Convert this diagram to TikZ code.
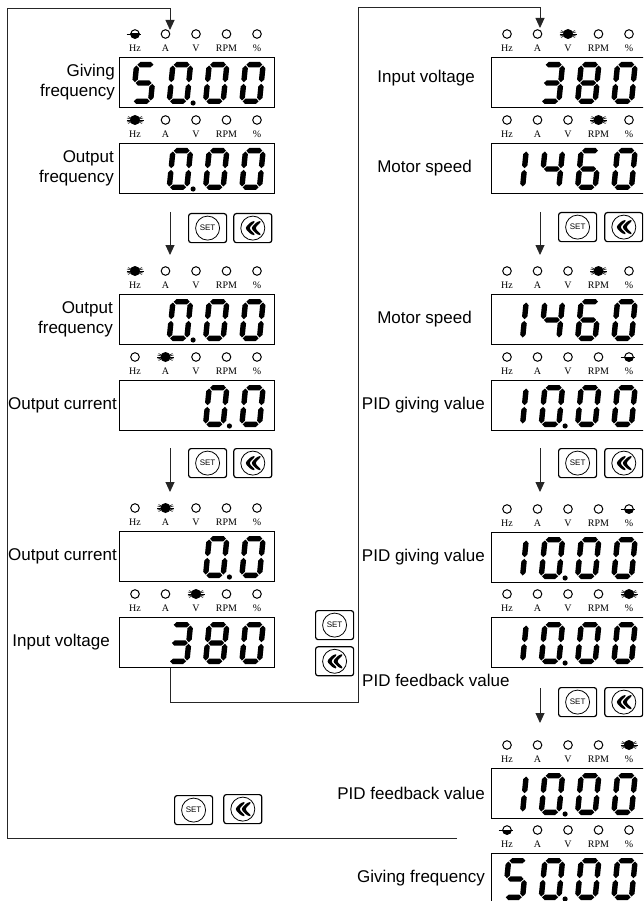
\documentclass[tikz,border=0pt]{standalone}
\usepackage{fontspec}
\setmainfont{Liberation Serif}
\setsansfont{Liberation Sans}
\usetikzlibrary{arrows.meta,positioning,calc}

\newcommand{\hseg}[3]{\fill[segfill] (#1,#3) -- ({#1+2.7},{#3-2.7}) -- ({#2-2.7},{#3-2.7}) -- (#2,#3) -- ({#2-2.7},{#3+2.7}) -- ({#1+2.7},{#3+2.7}) -- cycle;}
\newcommand{\vseg}[3]{\fill[segfill] (#1,#2) -- ({#1+2.7},{#2+2.7}) -- ({#1+2.7},{#3-2.7}) -- (#1,#3) -- ({#1-2.7},{#3-2.7}) -- ({#1-2.7},{#2+2.7}) -- cycle;}
\newcommand{\drawseg}[1]{%
  \if a#1\hseg{3.5}{19.5}{-39.3}\fi
  \if b#1\vseg{20.3}{-38.5}{-21.8}\fi
  \if c#1\vseg{20.3}{-20.2}{-3.5}\fi
  \if d#1\hseg{3.5}{19.5}{-2.7}\fi
  \if e#1\vseg{2.7}{-20.2}{-3.5}\fi
  \if f#1\vseg{2.7}{-38.5}{-21.8}\fi
  \if g#1\hseg{3.5}{19.5}{-21}\fi}
\newcommand{\segs}[1]{\foreach \s in {#1}{\drawseg{\s}}}
\newcommand{\digit}[2]{%
  \begin{scope}[shift={#1},xslant=0.1]
    \ifcase#2\relax \segs{a,b,c,d,e,f}\or\segs{b,c}\or\segs{a,b,d,e,g}\or\segs{a,b,c,d,g}\or\segs{b,c,f,g}\or
    \segs{a,c,d,f,g}\or\segs{a,c,d,e,f,g}\or\segs{a,b,c}\or\segs{a,b,c,d,e,f,g}\or\segs{a,b,c,d,f,g}\fi
  \end{scope}}
\newcommand{\readout}[3]{%
  \foreach \p/\n in {#2}{\digit{($(#1.south west)+({11+36.3*\p},-4)$)}{\n}}
  \ifnum#3>0 \fill[segfill] ($(#1.south west)+({36.3*#3+1.5},-5)$) circle (2.6);\fi}
\newcommand{\ledrow}[2]{%
  \foreach \st [count=\i from 0] in {#2}{
    \coordinate (led) at ($(#1.north west)+({16+30.5*\i},-23)$);
    \node[ledlbl] at ($(led)+(0,14)$) {\ifcase\i Hz\or A\or V\or RPM\or \%\fi};
    \if o\st \draw[ledoff] (led) circle (4.3);\fi
    \if f\st \fill (led) circle (5);
      \draw[line width=0.6] ($(led)+(-8.5,0)$) -- ($(led)+(8.5,0)$);
      \draw[line width=0.5] ($(led)+(-8,-2)$) -- ($(led)+(8,2)$) ($(led)+(-8,2)$) -- ($(led)+(8,-2)$)
        ($(led)+(-7,-3.5)$) -- ($(led)+(7,3.5)$) ($(led)+(-7,3.5)$) -- ($(led)+(7,-3.5)$);\fi
    \if h\st \draw[ledoff] (led) circle (4.3);
      \begin{scope}
        \clip ($(led)+(-6,0)$) rectangle ($(led)+(6,6)$);
        \fill (led) circle (4.8);
      \end{scope}
      \draw[line width=0.7] ($(led)+(-8.5,0)$) -- ($(led)+(6,0)$);\fi
  }}

\begin{document}
\begin{tikzpicture}[x=1pt,y=-1pt,
  segfill/.style={fill=black},
  disp/.style={draw,line width=1,minimum width=155,minimum height=50,inner sep=0,anchor=north west},
  lbl/.style={font=\sffamily\fontsize{17}{20}\selectfont,align=right,inner sep=0},
  ledlbl/.style={font=\fontsize{10}{10}\selectfont,inner sep=0},
  ledoff/.style={line width=1},
  key/.style={draw,line width=1.2,rounded corners=2.5,minimum width=38,minimum height=29,inner sep=0,anchor=north west},
  setkey/.style={key,font=\sffamily\fontsize{8}{8}\selectfont,
    path picture={\draw[line width=0.8] (path picture bounding box.center) circle (12);}},
  backkey/.style={key,path picture={\draw[line width=0.8] (path picture bounding box.center) circle (12);
    \fill ($(path picture bounding box.center)+(-8,0)$) -- ++(7,-7) -- ++(4,0) -- ++(-7,7) -- ++(7,7) -- ++(-4,0) -- cycle;
    \fill ($(path picture bounding box.center)+(-2,0)$) -- ++(7,-7) -- ++(4,0) -- ++(-7,7) -- ++(7,7) -- ++(-4,0) -- cycle;}},
  flow/.style={line width=0.9,draw=black!85,-{Triangle[length=10pt,width=9pt]}}
]
\useasboundingbox (0,0) rectangle (643,901);
\clip (0,0) rectangle (643,901);

\node[disp] (lf1) at (119,57) {};
\node[disp] (lf2) at (119,143) {};
\node[disp] (lf3) at (119,294) {};
\node[disp] (lf4) at (119,380) {};
\node[disp] (lf5) at (119,531) {};
\node[disp] (lf6) at (119,617) {};
\node[disp] (rt1) at (491,57) {};
\node[disp] (rt2) at (491,143) {};
\node[disp] (rt3) at (491,294) {};
\node[disp] (rt4) at (491,380) {};
\node[disp] (rt5) at (491,532) {};
\node[disp] (rt6) at (491,617) {};
\node[disp] (rt7) at (491,768) {};
\node[disp] (rt8) at (491,853) {};

\node[lbl, left=4pt of lf1] (lf1t) {Giving\\frequency};
\node[lbl, left=5pt of lf2] (lf2t) {Output\\frequency};
\node[lbl, left=6pt of lf3] (lf3t) {Output\\frequency};
\node[lbl, left=2pt of lf4] (lf4t) {Output current};
\node[lbl, left=2pt of lf5] (lf5t) {Output current};
\node[lbl, left=9pt of lf6] (lf6t) {Input voltage};
\node[lbl, left=16pt of rt1, yshift=4pt] (rt1t) {Input voltage};
\node[lbl, left=19pt of rt2] (rt2t) {Motor speed};
\node[lbl, left=19pt of rt3] (rt3t) {Motor speed};
\node[lbl, left=6pt of rt4] (rt4t) {PID giving value};
\node[lbl, left=6pt of rt5] (rt5t) {PID giving value};
\node[lbl, anchor=west] (rt6t) at (362,680) {PID feedback value};
\node[lbl, left=6pt of rt7] (rt7t) {PID feedback value};
\node[lbl, left=6pt of rt8] (rt8t) {Giving frequency};

\ledrow{lf1}{h,o,o,o,o}
\ledrow{lf2}{f,o,o,o,o}
\ledrow{lf3}{f,o,o,o,o}
\ledrow{lf4}{o,f,o,o,o}
\ledrow{lf5}{o,f,o,o,o}
\ledrow{lf6}{o,o,f,o,o}
\ledrow{rt1}{o,o,f,o,o}
\ledrow{rt2}{o,o,o,f,o}
\ledrow{rt3}{o,o,o,f,o}
\ledrow{rt4}{o,o,o,o,h}
\ledrow{rt5}{o,o,o,o,h}
\ledrow{rt6}{o,o,o,o,f}
\ledrow{rt7}{o,o,o,o,f}
\ledrow{rt8}{h,o,o,o,o}

\readout{lf1}{0/5,1/0,2/0,3/0}{2}
\readout{lf2}{1/0,2/0,3/0}{2}
\readout{lf3}{1/0,2/0,3/0}{2}
\readout{lf4}{2/0,3/0}{3}
\readout{lf5}{2/0,3/0}{3}
\readout{lf6}{1/3,2/8,3/0}{0}
\readout{rt1}{1/3,2/8,3/0}{0}
\readout{rt2}{0/1,1/4,2/6,3/0}{0}
\readout{rt3}{0/1,1/4,2/6,3/0}{0}
\readout{rt4}{0/1,1/0,2/0,3/0}{2}
\readout{rt5}{0/1,1/0,2/0,3/0}{2}
\readout{rt6}{0/1,1/0,2/0,3/0}{2}
\readout{rt7}{0/1,1/0,2/0,3/0}{2}
\readout{rt8}{0/5,1/0,2/0,3/0}{2}

\node[setkey] (sk1) at (188,213) {SET};
\node[backkey, right=6pt of sk1] (bk1) {};
\node[setkey] (sk2) at (188,448) {SET};
\node[backkey, right=6pt of sk2] (bk2) {};
\node[setkey] (skm) at (315,610) {SET};
\node[backkey, below=6pt of skm] (bkm) {};
\node[setkey] (sk3) at (174,795) {SET};
\node[backkey, right=10pt of sk3, yshift=1pt] (bk3) {};
\node[setkey] (rk1) at (558,212) {SET};
\node[backkey, right=7pt of rk1] (rb1) {};
\node[setkey] (rk2) at (558,448) {SET};
\node[backkey, right=7pt of rk2] (rb2) {};
\node[setkey] (rk3) at (558,687) {SET};
\node[backkey, right=7pt of rk3] (rb3) {};

\coordinate (loopend) at (457,838);
\coordinate (looptop) at (7,8);
\coordinate (lfin) at (170,30);
\coordinate (lfout) at ($(lf6.south west)+(51,0)$);
\coordinate (midturn) at (358,702);
\coordinate (rttop) at (540,7);
\coordinate (rtin) at (540,28);
\coordinate (la1s) at (170,212);
\coordinate (la1e) at (170,255);
\coordinate (la2s) at (170,448);
\coordinate (la2e) at (170,492);
\coordinate (ra1s) at (540,212);
\coordinate (ra1e) at (540,255);
\coordinate (ra2s) at (540,448);
\coordinate (ra2e) at (540,492);
\coordinate (ra3s) at (540,688);
\coordinate (ra3e) at (540,723);

\draw[flow] (loopend) -| (looptop) -| (lfin);
\draw[flow] (lfout) |- (midturn) |- (rttop) -- (rtin);
\draw[flow] (la1s) -- (la1e);
\draw[flow] (la2s) -- (la2e);
\draw[flow] (ra1s) -- (ra1e);
\draw[flow] (ra2s) -- (ra2e);
\draw[flow] (ra3s) -- (ra3e);
\end{tikzpicture}
\end{document}
